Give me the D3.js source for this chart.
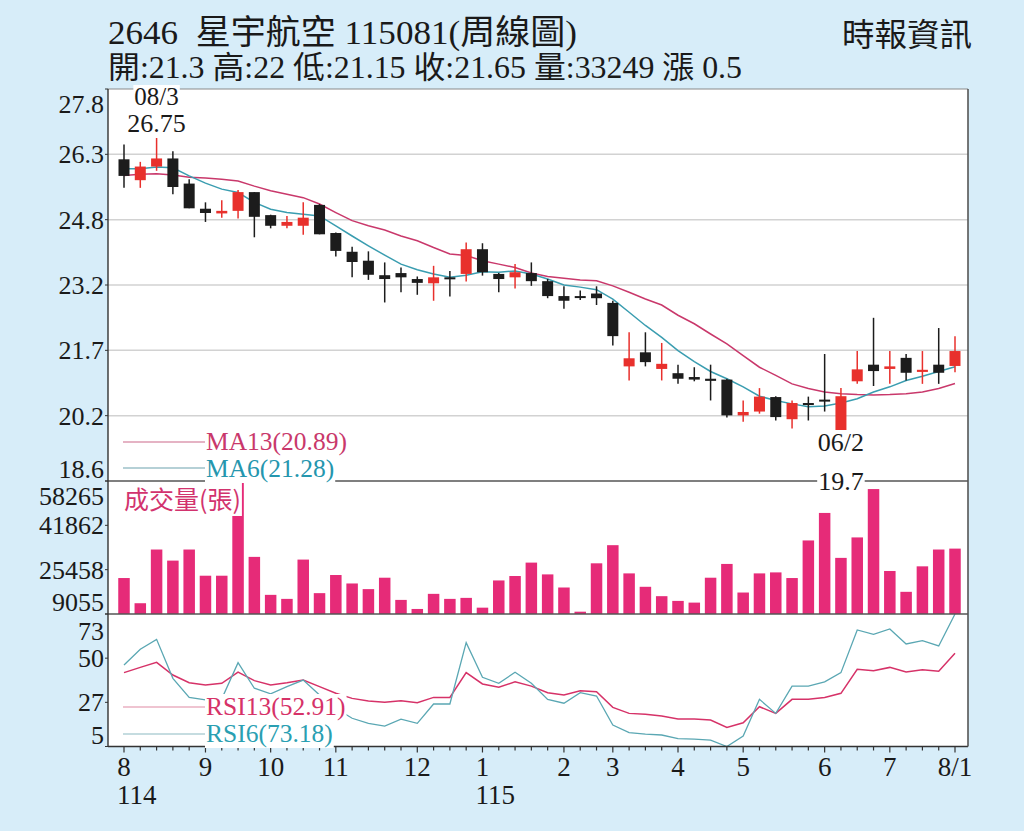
<!DOCTYPE html>
<html>
<head>
  <meta charset="utf-8">
  <script src="https://d3js.org/d3.v7.min.js"></script>
  <style>
    body { margin: 0; background: #d7edf9; }
    svg { display: block; }
    .serif { font-family: 'Liberation Serif', 'DejaVu Serif', serif; }
    .cjk { font-family: 'Noto Sans CJK TC', 'Noto Sans', sans-serif; }
    .mixed { font-family: 'Liberation Serif', 'Noto Sans CJK TC', serif; }
  </style>
</head>
<body>
<div id="chart"></div>
<script>

  // weekly candles, 114/08 .. 115/08
  var open  = [26.15, 25.66, 25.98, 26.17, 25.58, 24.99, 24.88, 24.94, 25.38, 24.84,
               24.59, 24.59, 25.08, 24.42, 23.98, 23.77, 23.43, 23.48, 23.34, 23.24,
               23.38, 23.46, 24.04, 23.46, 23.38, 23.48, 23.29, 22.94, 22.94, 23.00,
               22.78, 21.29, 21.62, 21.23, 21.13, 21.04, 21.00, 20.98, 20.14, 20.23,
               20.57, 20.05, 20.43, 20.51, 19.79, 20.94, 21.33, 21.23, 21.49, 21.16,
               21.33, 21.30];
  var high  = [26.50, 26.09, 26.75, 26.34, 25.68, 25.14, 25.19, 25.43, 25.38, 24.85,
               24.82, 25.14, 25.10, 24.43, 24.10, 23.99, 23.73, 23.61, 23.40, 23.65,
               23.53, 24.20, 24.18, 23.48, 23.69, 23.73, 23.34, 23.17, 23.07, 23.17,
               22.83, 22.09, 22.09, 21.84, 21.33, 21.27, 21.33, 21.00, 20.49, 20.78,
               20.59, 20.49, 20.58, 21.58, 20.78, 21.65, 22.43, 21.65, 21.58, 21.65,
               22.19, 22.00];
  var low   = [25.48, 25.48, 25.88, 25.33, 25.00, 24.68, 24.78, 24.76, 24.32, 24.53,
               24.53, 24.38, 24.39, 23.87, 23.38, 23.32, 22.79, 23.03, 22.97, 22.83,
               22.93, 23.28, 23.42, 23.03, 23.12, 23.18, 22.89, 22.64, 22.85, 22.73,
               21.78, 20.96, 21.29, 20.96, 20.88, 20.94, 20.49, 20.09, 19.99, 20.18,
               20.02, 19.83, 20.02, 20.23, 19.70, 20.88, 20.83, 20.88, 20.96, 20.88,
               20.88, 21.15];
  var close = [25.76, 25.98, 26.17, 25.50, 25.00, 24.89, 24.94, 25.38, 24.80, 24.59,
               24.68, 24.78, 24.39, 24.00, 23.74, 23.44, 23.34, 23.38, 23.25, 23.38,
               23.36, 24.04, 23.50, 23.34, 23.50, 23.29, 22.94, 22.83, 22.94, 22.89,
               22.00, 21.48, 21.39, 21.35, 21.00, 20.98, 20.95, 20.14, 20.22, 20.58,
               20.10, 20.43, 20.43, 20.51, 20.59, 21.22, 21.18, 21.29, 21.14, 21.21,
               21.14, 21.65];

  var volume = [22360, 13040, 32910, 28810, 32910, 23220, 23220, 61500, 30190, 16140,
                14650, 29190, 16770, 23480, 20350, 18260, 22480, 14270, 10920, 16510,
                14650, 15020, 11400, 21470, 23110, 28070, 23710, 18860, 9910, 27810,
                34520, 24080, 19120, 15650, 13900, 13270, 22480, 27580, 17000, 24080,
                24450, 22360, 36270, 46450, 29820, 37390, 55280, 24970, 17260, 26690,
                32910, 33249];

  var ma6  = [25.93, 25.93, 25.97, 25.95, 25.76, 25.59, 25.45, 25.37, 25.14, 24.98,
              24.90, 24.86, 24.82, 24.59, 24.35, 24.12, 23.90, 23.69, 23.56, 23.46,
              23.38, 23.43, 23.51, 23.50, 23.53, 23.46, 23.34, 23.20, 23.15, 23.09,
              22.87, 22.56, 22.25, 21.97, 21.66, 21.40, 21.17, 21.00, 20.81, 20.59,
              20.49, 20.41, 20.34, 20.36, 20.43, 20.53, 20.69, 20.81, 20.96, 21.06,
              21.17, 21.28];
  var ma13 = [25.77, 25.80, 25.81, 25.78, 25.73, 25.71, 25.68, 25.64, 25.52, 25.41,
              25.33, 25.25, 25.10, 24.90, 24.71, 24.59, 24.49, 24.35, 24.24, 24.08,
              23.93, 23.89, 23.77, 23.69, 23.61, 23.48, 23.40, 23.36, 23.32, 23.30,
              23.18, 23.03, 22.87, 22.73, 22.49, 22.29, 22.05, 21.82, 21.54, 21.27,
              21.08, 20.88, 20.77, 20.69, 20.65, 20.63, 20.62, 20.63, 20.65, 20.69,
              20.77, 20.89];

  var rsi6  = [46.8, 54.9, 60.0, 40.0, 30.2, 28.9, 29.5, 48.0, 34.9, 32.0,
               35.7, 39.1, 31.4, 24.6, 19.5, 16.9, 15.5, 19.0, 16.9, 26.8,
               26.8, 58.3, 40.5, 37.4, 43.1, 37.5, 29.2, 27.2, 32.6, 30.9,
               16.0, 12.1, 11.4, 10.9, 9.0, 8.8, 8.3, 4.6, 10.4, 29.2,
               22.0, 36.0, 36.0, 38.2, 42.9, 64.8, 62.6, 65.3, 57.6, 59.3,
               56.6, 73.18];
  var rsi13 = [42.9, 45.6, 48.2, 41.7, 37.7, 36.6, 37.4, 43.2, 38.8, 36.6,
               37.7, 39.1, 35.7, 32.3, 29.7, 28.3, 27.7, 28.5, 27.5, 30.2,
               30.2, 42.9, 37.1, 35.4, 38.2, 36.0, 32.6, 31.4, 33.6, 33.1,
               25.1, 22.0, 21.5, 20.6, 19.1, 19.1, 18.6, 14.8, 17.2, 25.4,
               22.0, 29.2, 29.2, 30.2, 32.3, 44.6, 43.9, 45.6, 43.2, 44.4,
               43.6, 52.91];

  var monthTickIndex  = [0, 5, 9, 13, 18, 22, 27, 30, 34, 38, 43, 47, 51];
  var monthTickLabels = ["8", "9", "10", "11", "12", "1", "2", "3", "4", "5", "6", "7", "8/1"];
  var yearTickIndex   = [0, 22];
  var yearTickLabels  = ["114", "115"];

  var priceTickLabels  = ["18.6", "20.2", "21.7", "23.2", "24.8", "26.3", "27.8"];
  var volumeTickLabels = ["9055", "25458", "41862", "58265"];
  var rsiTickLabels    = ["5", "27", "50", "73"];

  var titleText = "2646  星宇航空 115081(周線圖)";
  var quoteText = "開:21.3 高:22 低:21.15 收:21.65 量:33249 漲 0.5";
  var sourceText = "時報資訊";

  // high / low markers
  var markIndex  = [2, 44];
  var markLabels = [["08/3", "26.75"], ["06/2", "19.7"]];


  var W = 1024, H = 831;
  var plotL = 108, plotR = 968;
  var priceTop = 89, priceBot = 481, volBot = 614, rsiBot = 746.5;

  var colUp = '#e8302c', colDown = '#1c1c1c';
  var colMa13 = '#c9386b', colMa6 = '#3a9db0';
  var colVol = '#e62b78';
  var colRsi13 = '#d63268', colRsi6 = '#5aa7b3';

  var n = close.length;

  var x = d3.scaleLinear().domain([0, n - 1]).range([124, 955]);
  var yPrice = d3.scaleLinear().domain([18.6, 27.8]).range([priceBot, priceTop]);
  var yVol = d3.scaleLinear().domain([9055, 58265]).range([volBot, priceBot]).clamp(true);
  var yRsi = d3.scaleLinear().domain([5, 73]).range([rsiBot, volBot]).clamp(true);

  var svg = d3.select("#chart")
    .append("svg")
    .attr("width", W)
    .attr("height", H);

  svg.append("rect").attr("width", W).attr("height", H).attr("fill", "#d7edf9");
  svg.append("rect")
    .attr("x", plotL).attr("y", priceTop)
    .attr("width", plotR - plotL).attr("height", rsiBot - priceTop)
    .attr("fill", "#fff");

  // evenly spaced tick values over a scale domain, labels from the arrays
  function evenTicks(scale, labels) {
    var d = scale.domain();
    return labels.map(function (l, i) {
      return { v: d[0] + i * (d[1] - d[0]) / (labels.length - 1), label: l };
    });
  }

  var priceTicks = evenTicks(yPrice, priceTickLabels);
  var volTicks = evenTicks(yVol, volumeTickLabels);
  var rsiTicks = evenTicks(yRsi, rsiTickLabels);

  // price grid
  svg.append("g").selectAll("line")
    .data(priceTicks.slice(1, -1))
    .enter().append("line")
    .attr("x1", plotL).attr("x2", plotR)
    .attr("y1", function (d) { return yPrice(d.v); })
    .attr("y2", function (d) { return yPrice(d.v); })
    .attr("stroke", "#d2d2d2")
    .attr("stroke-width", 1.5);

  // moving averages
  var priceLine = d3.line()
    .x(function (d, i) { return x(i); })
    .y(function (d) { return yPrice(d); });

  svg.append("path").attr("d", priceLine(ma13))
    .attr("fill", "none").attr("stroke", colMa13).attr("stroke-width", 1.5);
  svg.append("path").attr("d", priceLine(ma6))
    .attr("fill", "none").attr("stroke", colMa6).attr("stroke-width", 1.5);

  // candles
  var candles = svg.append("g").selectAll("g")
    .data(close.map(function (c, i) {
      return { i: i, o: open[i], h: high[i], l: low[i], c: c };
    }))
    .enter().append("g");

  function candleColor(d) { return d.c > d.o ? colUp : colDown; }

  candles.append("line")
    .attr("x1", function (d) { return x(d.i); })
    .attr("x2", function (d) { return x(d.i); })
    .attr("y1", function (d) { return yPrice(d.h); })
    .attr("y2", function (d) { return yPrice(d.l); })
    .attr("stroke", candleColor)
    .attr("stroke-width", 1.5);

  candles.append("rect")
    .attr("x", function (d) { return x(d.i) - 5.5; })
    .attr("width", 11)
    .attr("y", function (d) { return yPrice(Math.max(d.o, d.c)); })
    .attr("height", function (d) {
      return Math.max(2, Math.abs(yPrice(d.o) - yPrice(d.c)));
    })
    .attr("fill", candleColor);

  // volume bars
  svg.append("g").selectAll("rect")
    .data(volume)
    .enter().append("rect")
    .attr("x", function (d, i) { return x(i) - 5.75; })
    .attr("width", 11.5)
    .attr("y", function (d) { return yVol(d); })
    .attr("height", function (d) { return volBot - yVol(d); })
    .attr("fill", colVol);

  // RSI lines
  var rsiLine = d3.line()
    .x(function (d, i) { return x(i); })
    .y(function (d) { return yRsi(d); });

  svg.append("path").attr("d", rsiLine(rsi13))
    .attr("fill", "none").attr("stroke", colRsi13).attr("stroke-width", 1.5);
  svg.append("path").attr("d", rsiLine(rsi6))
    .attr("fill", "none").attr("stroke", colRsi6).attr("stroke-width", 1.3);

  // frame
  svg.append("line").attr("x1", plotL).attr("x2", plotR).attr("y1", priceTop).attr("y2", priceTop)
    .attr("stroke", "#8a8a8a").attr("stroke-width", 1.2);
  [priceBot, volBot].forEach(function (yy) {
    svg.append("line").attr("x1", plotL).attr("x2", plotR).attr("y1", yy).attr("y2", yy)
      .attr("stroke", "#555").attr("stroke-width", 1.6);
  });
  svg.append("line").attr("x1", plotL).attr("x2", plotR).attr("y1", rsiBot).attr("y2", rsiBot)
    .attr("stroke", "#333").attr("stroke-width", 1.6);
  svg.append("line").attr("x1", plotL).attr("x2", plotL).attr("y1", priceTop).attr("y2", rsiBot)
    .attr("stroke", "#333").attr("stroke-width", 1.4);
  svg.append("line").attr("x1", plotR).attr("x2", plotR).attr("y1", priceTop).attr("y2", rsiBot)
    .attr("stroke", "#555").attr("stroke-width", 1.6);

  // y axis labels: top label pushed down, bottom label pushed up
  function yLabels(ticks, scale, topShift, botShift) {
    var g = svg.append("g");
    ticks.forEach(function (t, i) {
      var yy = scale(t.v);
      var shift = i === 0 ? botShift : (i === ticks.length - 1 ? topShift : 0);
      g.append("text")
        .attr("class", "serif")
        .attr("x", 104)
        .attr("y", yy + 9 + shift)
        .attr("text-anchor", "end")
        .attr("font-size", "26px")
        .attr("fill", "#1a1a1a")
        .text(t.label);
      g.append("line")
        .attr("x1", plotL - 3).attr("x2", plotL)
        .attr("y1", yy).attr("y2", yy)
        .attr("stroke", "#333");
    });
  }
  yLabels(priceTicks, yPrice, 15, -12);
  yLabels(volTicks, yVol, 15, -12);
  yLabels(rsiTicks, yRsi, 17, -12);

  // x axis ticks
  svg.append("g").selectAll("line")
    .data(close)
    .enter().append("line")
    .attr("x1", function (d, i) { return x(i); })
    .attr("x2", function (d, i) { return x(i); })
    .attr("y1", rsiBot)
    .attr("y2", function (d, i) { return monthTickIndex.indexOf(i) >= 0 ? rsiBot + 6 : rsiBot + 4; })
    .attr("stroke", "#333")
    .attr("stroke-width", 1.2);

  svg.append("g").selectAll("text")
    .data(monthTickIndex)
    .enter().append("text")
    .attr("class", "serif")
    .attr("x", function (d) { return x(d); })
    .attr("y", 776)
    .attr("text-anchor", "middle")
    .attr("font-size", "27px")
    .attr("fill", "#1a1a1a")
    .text(function (d, i) { return monthTickLabels[i]; });

  svg.append("g").selectAll("text")
    .data(yearTickIndex)
    .enter().append("text")
    .attr("class", "serif")
    .attr("x", function (d) { return x(d) - 7; })
    .attr("y", 804)
    .attr("font-size", "27px")
    .attr("fill", "#1a1a1a")
    .text(function (d, i) { return yearTickLabels[i]; });

  // text with a white box behind it
  function boxedText(xx, yy, txt, color, size, anchor, cls) {
    var g = svg.append("g");
    var t = g.append("text")
      .attr("class", cls || "serif")
      .attr("x", xx).attr("y", yy)
      .attr("text-anchor", anchor || "start")
      .attr("font-size", size)
      .attr("fill", color)
      .text(txt);
    var b = t.node().getBBox();
    g.insert("rect", "text")
      .attr("x", b.x - 1).attr("y", b.y + 2)
      .attr("width", b.width + 2).attr("height", b.height - 2)
      .attr("fill", "#fff");
    return t;
  }

  // legends
  var legends = [
    { y: 442, ty: 450, txt: "MA13(" + ma13[n - 1].toFixed(2) + ")", c: colMa13, lc: '#dc9ab0' },
    { y: 468, ty: 477, txt: "MA6(" + ma6[n - 1].toFixed(2) + ")", c: '#2596ae', lc: '#9cc0c8' },
    { y: 707, ty: 715, txt: "RSI13(" + rsi13[n - 1].toFixed(2) + ")", c: colRsi13, lc: '#eab0c2' },
    { y: 734, ty: 742, txt: "RSI6(" + rsi6[n - 1].toFixed(2) + ")", c: '#2a9fb2', lc: '#b2d0d6' }
  ];
  legends.forEach(function (l) {
    svg.append("line").attr("x1", 123).attr("x2", 206).attr("y1", l.y).attr("y2", l.y)
      .attr("stroke", l.lc).attr("stroke-width", 1.3);
    boxedText(206, l.ty, l.txt, l.c, "25.5px");
  });

  boxedText(124, 509, "成交量(張)", '#d2336e', "25px", "start", "cjk");

  // high / low marks
  boxedText(x(markIndex[0]), 105, markLabels[0][0], "#1a1a1a", "25px", "middle");
  boxedText(x(markIndex[0]), 132, markLabels[0][1], "#1a1a1a", "26px", "middle");
  boxedText(x(markIndex[1]), 451, markLabels[1][0], "#1a1a1a", "26px", "middle");
  boxedText(x(markIndex[1]), 490, markLabels[1][1], "#1a1a1a", "26px", "middle");

  // header: serif digits, sans CJK glyphs
  svg.append("text").attr("class", "mixed")
    .attr("x", 108).attr("y", 44)
    .attr("font-size", "34px").attr("fill", "#1a1a1a")
    .style("white-space", "pre")
    .attr("textLength", 469).attr("lengthAdjust", "spacingAndGlyphs")
    .text(titleText);
  svg.append("text").attr("class", "mixed")
    .attr("x", 108).attr("y", 78)
    .attr("font-size", "31px").attr("fill", "#1a1a1a")
    .attr("textLength", 634).attr("lengthAdjust", "spacingAndGlyphs")
    .text(quoteText);
  svg.append("text").attr("class", "cjk")
    .attr("x", 842).attr("y", 46)
    .attr("font-size", "32px").attr("fill", "#1a1a1a")
    .attr("textLength", 130).attr("lengthAdjust", "spacingAndGlyphs")
    .text(sourceText);

</script>
</body>
</html>
